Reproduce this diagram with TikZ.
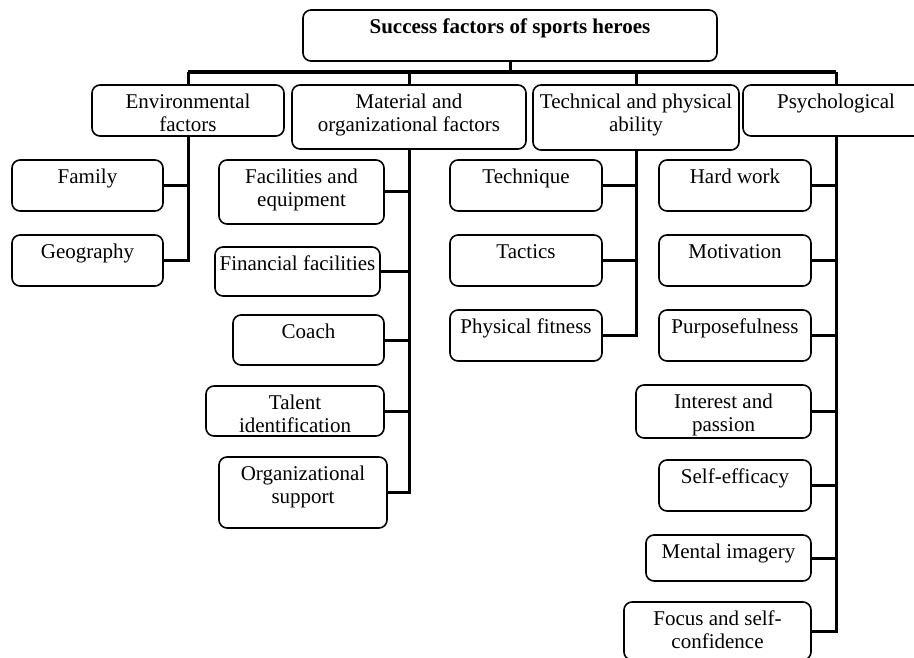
\documentclass[tikz,border=0pt]{standalone}
\usepackage{fontspec}
\setmainfont{Liberation Serif}
\tikzset{
  box/.style={draw, line width=1.6pt, rounded corners=8pt, inner sep=0pt, fill=white},
  txt/.style={draw=none, fill=none, minimum width=0pt, minimum height=0pt,
    anchor=north, inner sep=0pt, outer sep=0pt, align=center,
    font=\fontsize{21}{23}\selectfont},
  conn/.style={line width=3pt, line join=miter},
  barline/.style={line width=3.6pt, line join=miter},
}
\newcommand\drawbox[6]{%
  \node[box, minimum width={(#4)-(#2)}, minimum height={(#5)-(#3)},
    path picture={\node[txt] at (path picture bounding box.north) {\rule{0pt}{23.5pt}#6};}]
    (#1) at ({((#2)+(#4))/2},{((#3)+(#5))/2}) {};}
\begin{document}
\begin{tikzpicture}[x=1pt,y=-1pt]
\path[use as bounding box] (0,0) rectangle (914,658);
\clip (0,0) rectangle (914,658);
\fill[white] (0,0) rectangle (914,658);
% root and level 1
\drawbox{root}{303}{10}{717}{61}{\textbf{Success factors of sports heroes}}
\drawbox{env}{92}{85}{284}{136}{Environmental\\factors}
\drawbox{mat}{292}{85}{526}{149}{Material and\\organizational factors}
\drawbox{tec}{533}{85}{739}{150}{Technical and physical\\ability}
\drawbox{psy}{743}{85}{929}{136}{Psychological}
% environmental children
\drawbox{fam}{12}{160}{163}{211}{Family}
\drawbox{geo}{12}{235}{163}{286}{Geography}
% material children
\drawbox{fac}{219}{160}{384}{224}{Facilities and\\equipment}
\drawbox{fin}{215}{247}{380}{296}{Financial facilities}
\drawbox{coa}{233}{315}{384}{365}{Coach}
\drawbox{tal}{206}{386}{384}{436}{Talent\\identification}
\drawbox{org}{219}{457}{387}{528}{Organizational\\support}
% technical children
\drawbox{tch}{450}{160}{602}{211}{Technique}
\drawbox{tac}{450}{235}{602}{286}{Tactics}
\drawbox{phy}{450}{310}{602}{361}{Physical fitness}
% psychological children
\drawbox{har}{659}{160}{811}{211}{Hard work}
\drawbox{mot}{659}{235}{811}{286}{Motivation}
\drawbox{pur}{659}{310}{811}{361}{Purposefulness}
\drawbox{int}{636}{385}{811}{438}{Interest and\\passion}
\drawbox{sef}{659}{460}{811}{511}{Self-efficacy}
\drawbox{men}{646}{535}{811}{581}{Mental imagery}
\drawbox{foc}{624}{602}{811}{660}{Focus and self-\\confidence}
% top connectors
\coordinate (bar) at (510,72);
\draw[conn] (root.south) -- (root.south |- bar);
\draw[barline] (env.north |- bar) -- (psy.north |- bar);
\draw[conn] (env.north |- bar) -- (env.north);
\draw[conn] (mat.north |- bar) -- (mat.north);
\draw[conn] (tec.north |- bar) -- (tec.north);
\draw[conn] (psy.north |- bar) -- (psy.north);
% environmental
\draw[conn] (env.south) -- (env.south |- geo.east) -- (geo.east);
\draw[conn] (fam.east) -- (fam.east -| env.south);
% material
\draw[conn] (mat.south) -- (mat.south |- org.east) -- (org.east);
\foreach \n in {fac,fin,coa,tal} \draw[conn] (\n.east) -- (\n.east -| mat.south);
% technical
\draw[conn] (tec.south) -- (tec.south |- phy.east) -- (phy.east);
\foreach \n in {tch,tac} \draw[conn] (\n.east) -- (\n.east -| tec.south);
% psychological
\draw[conn] (psy.south) -- (psy.south |- foc.east) -- (foc.east);
\foreach \n in {har,mot,pur,int,sef,men} \draw[conn] (\n.east) -- (\n.east -| psy.south);
\end{tikzpicture}
\end{document}
